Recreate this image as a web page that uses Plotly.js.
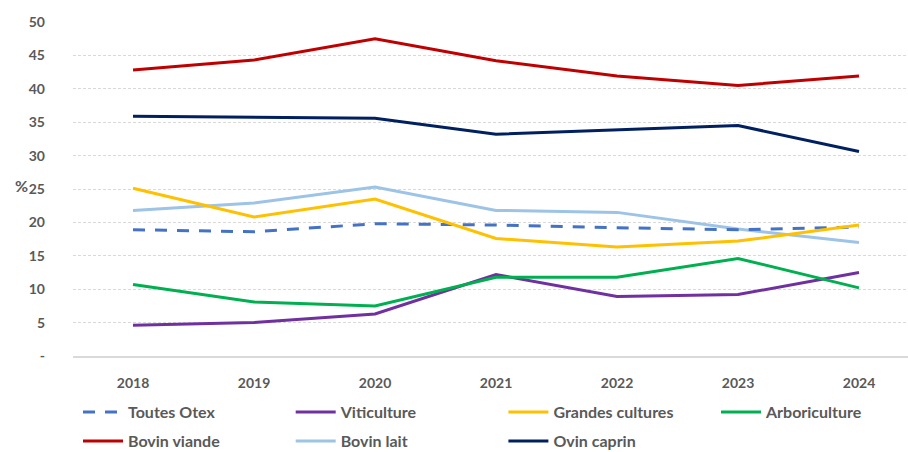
<!DOCTYPE html>
<html>
<head>
<meta charset="utf-8">
<script src="https://cdn.plot.ly/plotly-3.0.1.min.js"></script>
<style>html,body{margin:0;padding:0;overflow:hidden;background:#fff;}</style>
</head>
<body>
<div id="chart" style="width:908px;height:452px;"></div>
<script>
const years = ['2018', '2019', '2020', '2021', '2022', '2023', '2024'];
const toutesOtex = [18.9, 18.6, 19.8, 19.6, 19.2, 18.9, 19.3];
const viticulture = [4.6, 5.0, 6.3, 12.2, 8.9, 9.2, 12.5];
const grandesCultures = [25.1, 20.8, 23.5, 17.6, 16.3, 17.2, 19.6];
const arboriculture = [10.7, 8.1, 7.5, 11.8, 11.8, 14.6, 10.2];
const bovinViande = [42.8, 44.3, 47.5, 44.2, 41.9, 40.5, 41.9];
const bovinLait = [21.8, 22.9, 25.3, 21.8, 21.5, 19.0, 17.0];
const ovinCaprin = [35.9, 35.7, 35.6, 33.2, 33.8, 34.5, 30.6];
const yTickVals = [0, 5, 10, 15, 20, 25, 30, 35, 40, 45, 50];
const yTickText = ['-', '5', '10', '15', '20', '25', '30', '35', '40', '45', '50'];

const FONT = 'Lato, "Open Sans", sans-serif';

function line(name, y, color, legend, dash) {
  return {
    type: 'scatter', mode: 'lines', name: name, x: years, y: y,
    line: {color: color, width: 3, dash: dash || 'solid'},
    legend: legend, hoverinfo: 'x+y+name'
  };
}

const traces = [
  line('Bovin viande', bovinViande, '#C00000', 'legend2'),
  line('Bovin lait', bovinLait, '#9DC3E6', 'legend2'),
  line('Ovin caprin', ovinCaprin, '#002060', 'legend2'),
  line('Toutes Otex', toutesOtex, '#4472C4', 'legend', '12px,10px'),
  line('Grandes cultures', grandesCultures, '#FFC000', 'legend'),
  line('Viticulture', viticulture, '#7030A0', 'legend'),
  line('Arboriculture', arboriculture, '#00B050', 'legend3')
];
const ranks = {'Toutes Otex': 1, 'Viticulture': 2, 'Grandes cultures': 3, 'Arboriculture': 4, 'Bovin viande': 5, 'Bovin lait': 6, 'Ovin caprin': 7};
traces.forEach(t => { t.legendrank = ranks[t.name]; });

const legendFont = {family: FONT, size: 16, color: '#595959', weight: 700};
function leg(xpx, ypx) {
  return {
    orientation: 'h', xref: 'container', yref: 'container',
    x: xpx / 908, y: 1 - ypx / 452, xanchor: 'left', yanchor: 'top',
    itemwidth: 40, entrywidth: 157.7, entrywidthmode: 'pixels',
    font: legendFont, bgcolor: 'rgba(0,0,0,0)', borderwidth: 0, traceorder: 'normal'
  };
}

const layout = {
  width: 908, height: 452,
  margin: {l: 73, r: 0, t: 22, b: 96},
  paper_bgcolor: '#ffffff', plot_bgcolor: '#ffffff',
  font: {family: FONT, size: 14, color: '#595959'},
  showlegend: true,
  xaxis: {
    type: 'category', range: [-0.496, 6.405],
    showgrid: false, zeroline: false,
    showline: true, linecolor: '#d9d9d9', linewidth: 1.5,
    ticks: '', ticklabelstandoff: 14,
    tickfont: {family: FONT, size: 14, color: '#595959', weight: 700},
    fixedrange: true
  },
  yaxis: {
    range: [0, 50], tickvals: yTickVals, ticktext: yTickText,
    showgrid: true, gridcolor: '#d9d9d9', gridwidth: 1, griddash: '3px,2px',
    zeroline: false, showline: false, ticks: '', ticklabelstandoff: 27,
    tickfont: {family: FONT, size: 14, color: '#595959', weight: 700},
    fixedrange: true
  },
  legend: leg(78, 395),
  legend2: leg(78, 424),
  legend3: leg(716, 395),
  annotations: [{
    text: '%', xref: 'paper', yref: 'paper',
    x: (21 - 73) / 835, y: (356 - 185) / 334,
    xanchor: 'center', yanchor: 'middle', showarrow: false,
    font: {family: FONT, size: 16, color: '#595959', weight: 700}
  }]
};

Plotly.newPlot('chart', traces, layout, {displayModeBar: false, staticPlot: true});
</script>
</body>
</html>
